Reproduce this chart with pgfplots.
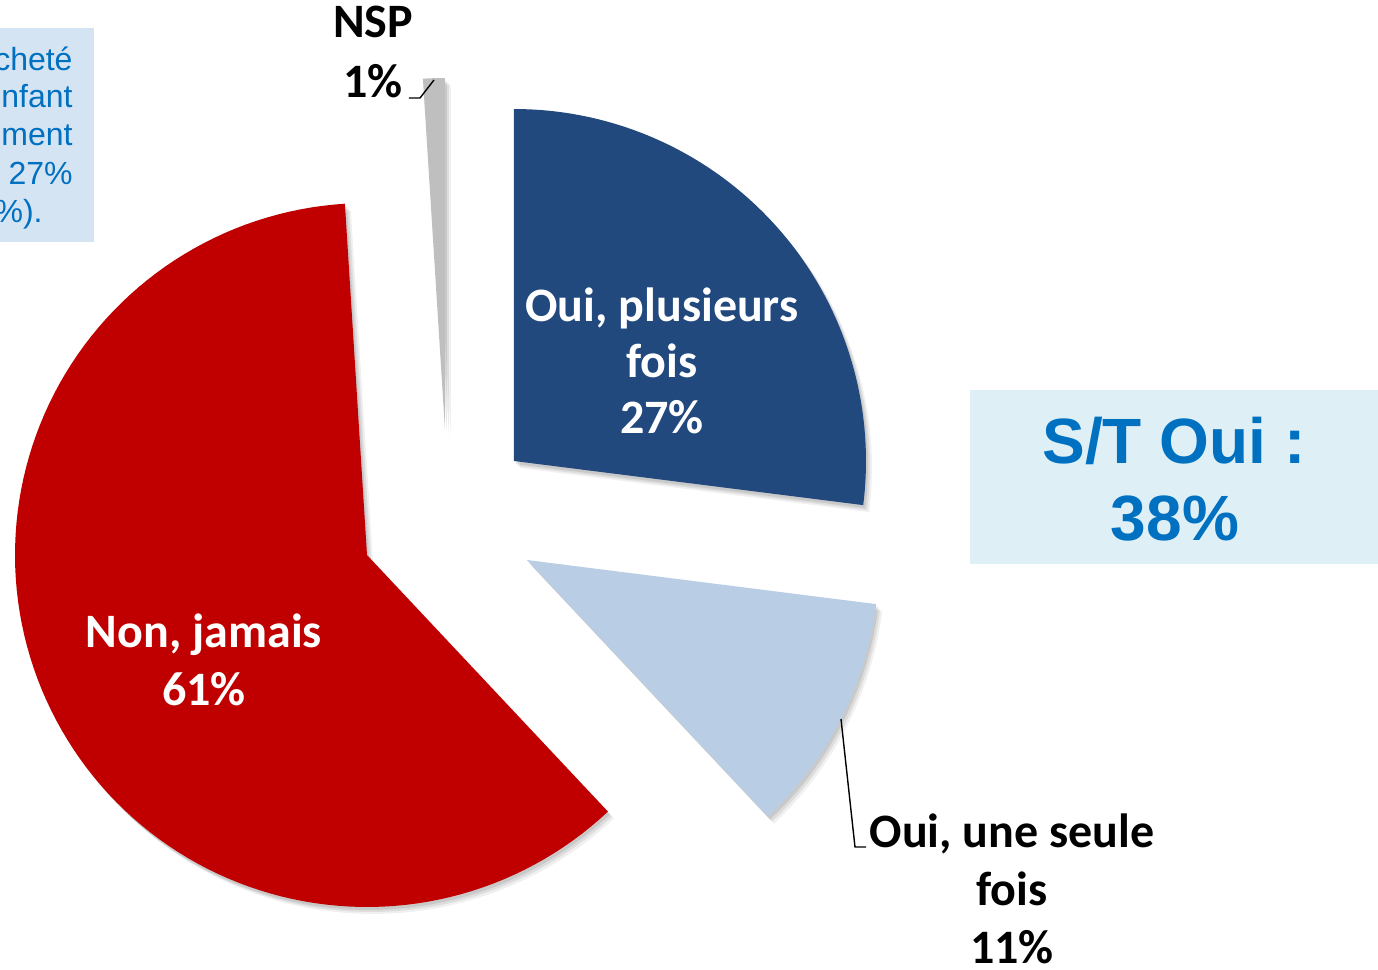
\documentclass[border=0pt]{standalone}
\usepackage{fontspec}
\setmainfont{Carlito}
\newfontfamily\arialf{Liberation Sans}
\usepackage{pgfplots}
\pgfplotsset{compat=1.18}
\definecolor{cBlue}{RGB}{33,73,125}
\definecolor{cLight}{RGB}{185,205,229}
\definecolor{cRed}{RGB}{192,0,0}
\definecolor{cGray}{RGB}{191,191,191}
\definecolor{txtBlue}{RGB}{0,112,192}
\definecolor{boxA}{RGB}{213,228,243}
\definecolor{boxB}{RGB}{222,240,246}
% slice: cx, cy, angle from, angle to, style  (radius 352 px)
\newcommand{\slice}[5]{%
  \addplot[#5, draw=none, domain=#3:#4, samples=120, variable=\t]
    ({#1+352*cos(\t)},{#2-352*sin(\t)}) -- (axis cs:#1,#2) -- cycle;}
\newcommand{\shadow}[4]{%
  \slice{#1+2}{#2+3}{#3}{#4}{fill=black, fill opacity=0.09}
  \slice{#1+4}{#2+5}{#3}{#4}{fill=black, fill opacity=0.08}
  \slice{#1+6}{#2+7}{#3}{#4}{fill=black, fill opacity=0.06}}
\begin{document}
\begin{tikzpicture}
\begin{axis}[hide axis, scale only axis, width=689pt, height=485pt,
  xmin=0, xmax=1378, ymin=0, ymax=970, y dir=reverse, clip=false]
\coordinate (BL) at (axis cs:0,970);
\coordinate (TR) at (axis cs:1378,0);
% boxes
\fill[boxA] (axis cs:-60,28) rectangle (axis cs:94,242);
\fill[boxB] (axis cs:970,390) rectangle (axis cs:1378,564);
% shadows
\shadow{514}{461}{-7.2}{90}
\shadow{527}{560}{-46.8}{-7.2}
\shadow{367}{555}{-266.4}{-46.8}
\shadow{445}{430}{90}{93.6}
% slices: 27% / 11% / 61% / 1%
\slice{514}{461}{-7.2}{90}{fill=cBlue}
\slice{527}{560}{-46.8}{-7.2}{fill=cLight}
\slice{367}{555}{-266.4}{-46.8}{fill=cRed}
\slice{445}{430}{90}{93.6}{fill=cGray}
% leader lines
\addplot[black, line width=0.7pt] coordinates {(841,719) (855,847) (866,847)};
\addplot[black, line width=0.7pt] coordinates {(409,98) (420,98) (434,80)};
% labels inside
\begin{scope}[every node/.style={anchor=base, inner sep=0pt, font=\fontsize{24}{29}\selectfont\bfseries}]
\node[text=white] at (axis cs:662,321) {Oui, plusieurs};
\node[text=white] at (axis cs:662,377) {fois};
\node[text=white] at (axis cs:662,433) {27\%};
\node[text=white] at (axis cs:204,647) {Non, jamais};
\node[text=white] at (axis cs:204,705) {61\%};
\node[text=black] at (axis cs:1012,847) {Oui, une seule};
\node[text=black] at (axis cs:1012,905) {fois};
\node[text=black] at (axis cs:1012,963) {11\%};
\node[text=black] at (axis cs:373,37) {NSP};
\node[text=black] at (axis cs:373,97) {1\%};
\end{scope}
% S/T box
\begin{scope}[every node/.style={anchor=base, inner sep=0pt, text=txtBlue, font=\arialf\fontsize{32}{38}\selectfont\bfseries}]
\node at (axis cs:1174,463) {S/T Oui :};
\node at (axis cs:1175,540) {38\%};
\end{scope}
% left text box (cut off)
\begin{scope}[every node/.style={anchor=base east, inner sep=0pt, text=txtBlue, font=\arialf\fontsize{16}{19}\selectfont}]
\node at (axis cs:73,70) {parents ont déjà acheté};
\node at (axis cs:73,107) {un jouet pour leur enfant};
\node at (axis cs:73,145) {régulièrement};
\node at (axis cs:73,184) {(plusieurs fois :  27\%};
\node at (axis cs:43,222) {une seule fois : 11\%).};
\end{scope}
\end{axis}
\pgfresetboundingbox
\path[use as bounding box] (BL) rectangle (TR);
\end{tikzpicture}
\end{document}
